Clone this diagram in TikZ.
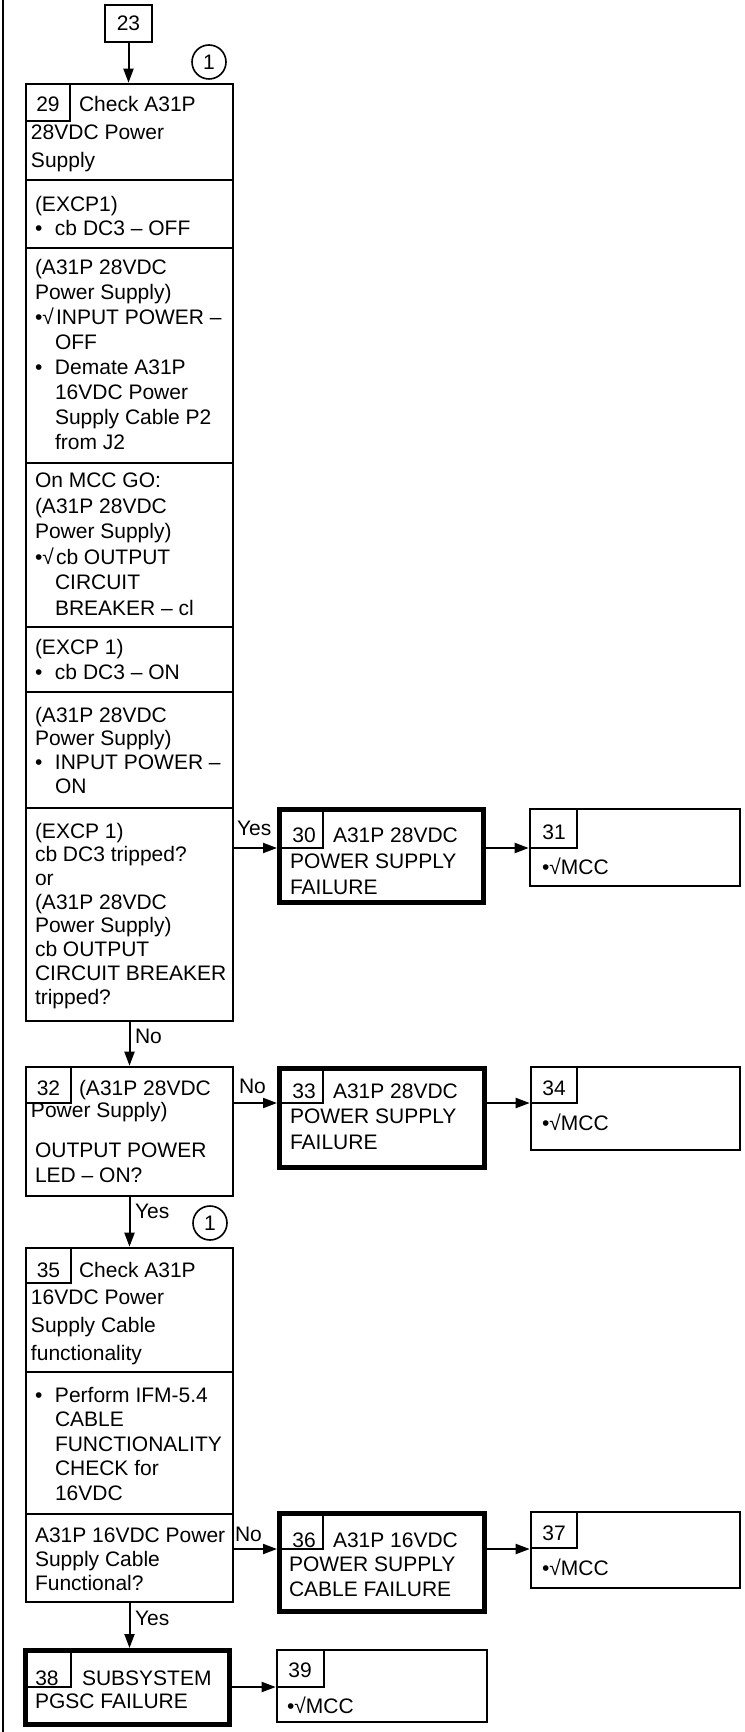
\documentclass[tikz,border=0pt]{standalone}
\usepackage{fontspec}
\setmainfont{Liberation Sans}
\usetikzlibrary{arrows.meta,fit}
\newcommand{\bl}{\makebox[10pt][l]{•}}
\newcommand{\blc}{\makebox[10.5pt][l]{•√}}
\newcommand{\ind}{\hspace*{10pt}}
\begin{document}
\begin{tikzpicture}[
  x=0.5pt, y=-0.5pt,
  every node/.style={inner sep=0pt, outer sep=0pt, font=\fontsize{10.5}{12.5}\selectfont},
  frame/.style={draw, line width=1.3pt, outer sep=0.65pt},
  heavy/.style={draw, line width=2.5pt, outer sep=1.25pt},
  numbox/.style={draw, line width=0.8pt},
  divider/.style={line width=1.2pt},
  txt/.style={anchor=base west, align=left},
  num/.style={anchor=base},
  conn/.style={line width=1pt, -{Triangle[length=7pt,width=5pt]}},
  lbl/.style={anchor=base west},
  ring/.style={draw, circle, line width=0.8pt, minimum size=17pt},
  pitch/.style={font=\fontsize{10.5}{#1}\selectfont},
]
\useasboundingbox (0,0) rectangle (744,1732);
\draw[line width=1pt] (3,0) -- (3,1732);

% box 23
\node[frame, fit={(105,5) (152,42)}] (b23) {};
\node[num] (n23) at (128.5,31) {23};
\node[ring] (c1) at (209,62) {1};

% box 29 (multi-line text nodes are placed by the baseline of their last line)
\node[frame, fit={(26,84) (233,1021)}] (b29) {};
\node[numbox, fit={(26,84) (70,121)}] (s29) {};
\node[num] (n29) at (48,112) {29};
\foreach \yy in {180,248,463,627,692,808} \draw[divider] (26,\yy) -- (233,\yy);
\node[txt] (t29a) at (79,112) {Check A31P};
\node[txt, pitch=14pt] (t29b) at (31,168) {28VDC Power\\Supply};
\node[txt, pitch=11.75pt] (t29c) at (35,235.5) {(EXCP1)\\\bl cb DC3 – OFF};
\node[txt, pitch=12.5pt] (t29d) at (35,450) {(A31P 28VDC\\Power Supply)\\\blc INPUT POWER –\\\ind OFF\\\bl Demate A31P\\\ind 16VDC Power\\\ind Supply Cable P2\\\ind from J2};
\node[txt, pitch=12.7pt] (t29e) at (35,615) {On MCC GO:\\(A31P 28VDC\\Power Supply)\\\blc cb OUTPUT\\\ind CIRCUIT\\\ind BREAKER – cl};
\node[txt, pitch=12.5pt] (t29f) at (35,679) {(EXCP 1)\\\bl cb DC3 – ON};
\node[txt, pitch=11.9pt] (t29g) at (35,793.5) {(A31P 28VDC\\Power Supply)\\\bl INPUT POWER –\\\ind ON};
\node[txt, pitch=11.85pt] (t29h) at (35,1004) {(EXCP 1)\\cb DC3 tripped?\\or\\(A31P 28VDC\\Power Supply)\\cb OUTPUT\\CIRCUIT BREAKER\\tripped?};

% box 30
\node[heavy, fit={(279.5,809.5) (483.5,902.5)}] (b30) {};
\node[numbox, fit={(279.5,809.5) (323,848)}] (s30) {};
\node[num] (n30) at (304,842) {30};
\node[txt] (t30a) at (333,842) {A31P 28VDC};
\node[txt, pitch=13pt] (t30b) at (290,894) {POWER SUPPLY\\FAILURE};

% box 31
\node[frame, fit={(530,809) (740,886)}] (b31) {};
\node[numbox, fit={(530,809) (577,848)}] (s31) {};
\node[num] (n31) at (554,839) {31};
\node[txt] (t31) at (542,874) {•√MCC};

% box 32
\node[frame, fit={(26,1067) (233,1196)}] (b32) {};
\node[numbox, fit={(26,1067) (71,1103)}] (s32) {};
\node[num] (n32) at (48.5,1095) {32};
\node[txt] (t32a) at (79,1095) {(A31P 28VDC};
\node[txt] (t32b) at (31,1117) {Power Supply)};
\node[txt] (t32c) at (35,1182) {OUTPUT POWER\\LED – ON?};

% box 33
\node[heavy, fit={(279.5,1068.5) (484.5,1167.5)}] (b33) {};
\node[numbox, fit={(279.5,1068.5) (323,1103)}] (s33) {};
\node[num] (n33) at (304,1098) {33};
\node[txt] (t33a) at (333,1098) {A31P 28VDC};
\node[txt, pitch=13pt] (t33b) at (290,1149) {POWER SUPPLY\\FAILURE};

% box 34
\node[frame, fit={(531,1067) (740,1150)}] (b34) {};
\node[numbox, fit={(531,1067) (577,1103)}] (s34) {};
\node[num] (n34) at (554,1095) {34};
\node[txt] (t34) at (542,1130) {•√MCC};

\node[ring] (c2) at (210,1223) {1};

% box 35
\node[frame, fit={(26,1248) (233,1602)}] (b35) {};
\node[numbox, fit={(26,1248) (71,1283)}] (s35) {};
\node[num] (n35) at (48.5,1277) {35};
\foreach \yy in {1372,1514} \draw[divider] (26,\yy) -- (233,\yy);
\node[txt] (t35a) at (79,1277) {Check A31P};
\node[txt, pitch=13.8pt] (t35b) at (31,1360) {16VDC Power\\Supply Cable\\functionality};
\node[txt, pitch=12.25pt] (t35c) at (35,1500) {\bl Perform IFM-5.4\\\ind CABLE\\\ind FUNCTIONALITY\\\ind CHECK for\\\ind 16VDC};
\node[txt, pitch=12pt] (t35d) at (35,1590) {A31P 16VDC Power\\Supply Cable\\Functional?};

% box 36
\node[heavy, fit={(279.5,1513.5) (484.5,1611.5)}] (b36) {};
\node[numbox, fit={(279.5,1513.5) (323,1549)}] (s36) {};
\node[num] (n36) at (304,1547) {36};
\node[txt] (t36a) at (333,1547) {A31P 16VDC};
\node[txt, pitch=12.4pt] (t36b) at (289,1596) {POWER SUPPLY\\CABLE FAILURE};

% box 37
\node[frame, fit={(531,1512) (740,1588)}] (b37) {};
\node[numbox, fit={(531,1512) (577,1548)}] (s37) {};
\node[num] (n37) at (554,1540) {37};
\node[txt] (t37) at (542,1575) {•√MCC};

% box 38
\node[heavy, fit={(25.5,1650.5) (229.5,1724.5)}] (b38) {};
\node[numbox, fit={(25.5,1650.5) (71,1687)}] (s38) {};
\node[num] (n38) at (47,1685) {38};
\node[txt] (t38a) at (82,1685) {SUBSYSTEM};
\node[txt] (t38b) at (35,1708) {PGSC FAILURE};

% box 39
\node[frame, fit={(277,1650) (487,1722)}] (b39) {};
\node[numbox, fit={(277,1650) (324,1687)}] (s39) {};
\node[num] (n39) at (300,1677) {39};
\node[txt] (t39) at (287,1713) {•√MCC};

% connectors
\draw[conn] (b23.south) -- (b23.south |- b29.north);
\draw[conn] (b29.east |- s30.south) -- (b30.west |- s30.south);
\draw[conn] (b30.east |- s30.south) -- (b31.west |- s30.south);
\draw[conn] (b29.south) -- (b32.north);
\draw[conn] (b32.east |- s33.south) -- (b33.west |- s33.south);
\draw[conn] (b33.east |- s33.south) -- (b34.west |- s33.south);
\draw[conn] (b32.south) -- (b35.north);
\draw[conn] (b35.east |- s36.south) -- (b36.west |- s36.south);
\draw[conn] (b36.east |- s36.south) -- (b37.west |- s36.south);
\draw[conn] (b35.south) -- (b35.south |- b38.north);
\draw[conn] (b38.east |- s38.south) -- (b39.west |- s38.south);

% labels
\node[lbl] (y1) at (237,835) {Yes};
\node[lbl] (no1) at (135,1043) {No};
\node[lbl] (no2) at (239,1093) {No};
\node[lbl] (y2) at (135,1218) {Yes};
\node[lbl] (no3) at (235,1541) {No};
\node[lbl] (y3) at (135,1625) {Yes};
\end{tikzpicture}
\end{document}
